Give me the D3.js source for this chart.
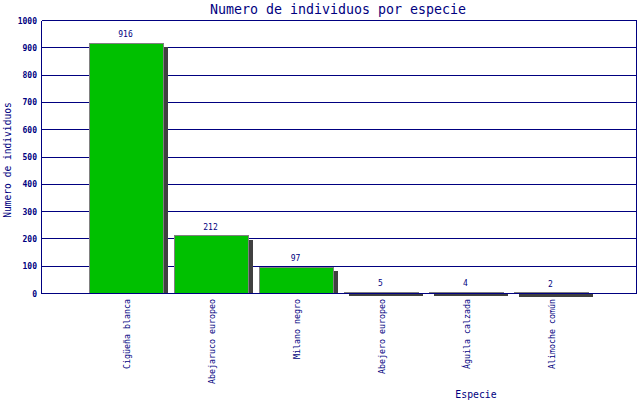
<!DOCTYPE html>
<html>
<head>
  <meta charset="utf-8">
  <title>Numero de individuos por especie</title>
  <style>
    body { margin: 0; background: #fff; }
    text { font-family: "DejaVu Sans Mono", monospace; fill: #000080; }
    .grid line { stroke: #000080; stroke-width: 1px; shape-rendering: crispEdges; }
    .bar { fill: #00c000; stroke: #808080; stroke-width: 1px; shape-rendering: crispEdges; }
    .shadow { fill: #404040; shape-rendering: crispEdges; }
  </style>
  <script src="https://d3js.org/d3.v7.min.js"></script>
</head>
<body>
  <script>
    // datos
    var especies = ["Cigüeña blanca", "Abejaruco europeo", "Milano negro",
                    "Abejero europeo", "Águila calzada", "Alimoche común"];
    var individuos = [916, 212, 97, 5, 4, 2];
    var yTicks = [0, 100, 200, 300, 400, 500, 600, 700, 800, 900, 1000];

    var width = 640, height = 400;
    var plotL = 41.5, plotR = 636.5, plotT = 20.5, plotB = 293.5;

    var svg = d3.select("body").append("svg")
      .attr("width", width)
      .attr("height", height);

    var x = d3.scalePoint()
      .domain(especies)
      .range([plotL, plotR])
      .padding(1);
    var barW = 74;

    var y = d3.scaleLinear()
      .domain([0, 1000])
      .range([plotB, plotT]);

    var data = especies.map(function(d, i) { return {name: d, value: individuos[i]}; });

    // lineas horizontales
    var grid = svg.append("g").attr("class", "grid");
    grid.selectAll("line")
      .data(yTicks.filter(function(d) { return d > 0; }))
      .enter().append("line")
        .attr("x1", plotL).attr("x2", plotR)
        .attr("y1", function(d) { return y(d); })
        .attr("y2", function(d) { return y(d); });

    // sombras
    svg.selectAll(".shadow")
      .data(data)
      .enter().append("rect")
        .attr("class", "shadow")
        .attr("x", function(d) { return x(d.name) - barW / 2 + 4; })
        .attr("y", function(d) { return Math.min(y(d.value) + 4, plotB); })
        .attr("width", barW)
        .attr("height", function(d) { return Math.abs(plotB - (y(d.value) + 4)); });

    // barras
    svg.selectAll(".bar")
      .data(data)
      .enter().append("rect")
        .attr("class", "bar")
        .attr("x", function(d) { return x(d.name) - barW / 2; })
        .attr("y", function(d) { return y(d.value); })
        .attr("width", barW)
        .attr("height", function(d) { return plotB - y(d.value); });

    // ejes
    var ejes = svg.append("g").attr("class", "grid");
    ejes.append("line").attr("x1", plotL).attr("x2", plotL).attr("y1", plotT).attr("y2", plotB);
    ejes.append("line").attr("x1", plotR).attr("x2", plotR).attr("y1", plotT).attr("y2", plotB);
    ejes.append("line").attr("x1", plotL).attr("x2", plotR).attr("y1", plotB).attr("y2", plotB);

    // etiquetas eje y
    svg.selectAll(".ytick")
      .data(yTicks)
      .enter().append("text")
        .attr("class", "ytick")
        .attr("x", 37)
        .attr("y", function(d) { return y(d) + 3; })
        .attr("text-anchor", "end")
        .style("font-size", "8px")
        .style("font-weight", "bold")
        .text(function(d) { return d; });

    // valores
    svg.selectAll(".valor")
      .data(data)
      .enter().append("text")
        .attr("class", "valor")
        .attr("x", function(d) { return x(d.name) - 1; })
        .attr("y", function(d) { return y(d.value) - 6; })
        .attr("text-anchor", "middle")
        .style("font-size", "8px")
        .text(function(d) { return d.value; });

    // categorias
    svg.selectAll(".cat")
      .data(data)
      .enter().append("text")
        .attr("class", "cat")
        .attr("transform", function(d) { return "translate(" + (x(d.name) + 3) + ",299) rotate(-90)"; })
        .attr("text-anchor", "end")
        .style("font-size", "8.3px")
        .text(function(d) { return d.name; });

    // titulos
    svg.append("text")
      .attr("x", 338).attr("y", 14)
      .attr("text-anchor", "middle")
      .style("font-size", "13.3px")
      .text("Numero de individuos por especie");

    svg.append("text")
      .attr("transform", "translate(11,160) rotate(-90)")
      .attr("text-anchor", "middle")
      .style("font-size", "9.6px")
      .text("Numero de individuos");

    svg.append("text")
      .attr("x", 476).attr("y", 398)
      .attr("text-anchor", "middle")
      .style("font-size", "9.8px")
      .text("Especie");
  </script>
</body>
</html>
